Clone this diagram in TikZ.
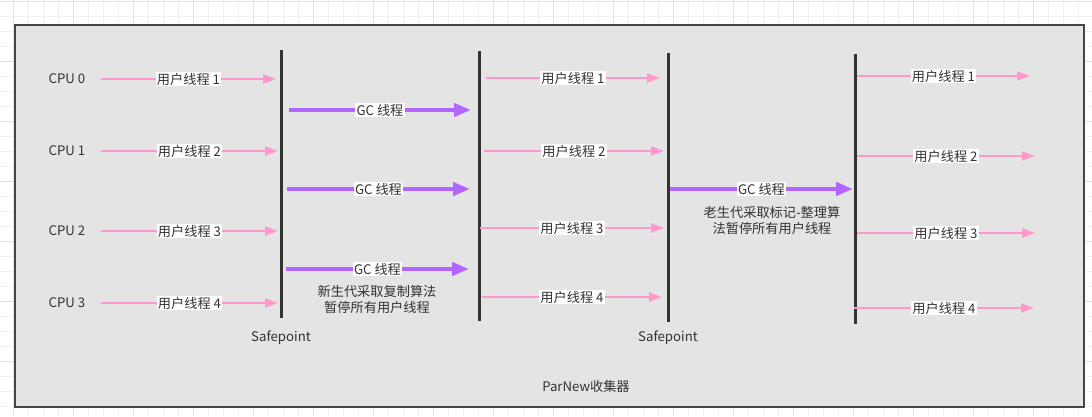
\documentclass[tikz,border=0pt]{standalone}
\usepackage{fontspec}
\setmainfont{Noto Sans CJK SC}
\usepackage{tikz}
\usetikzlibrary{arrows.meta,positioning}

\definecolor{userpink}{HTML}{FF99CC}
\definecolor{gcpurple}{HTML}{B266FF}
\definecolor{panelgray}{HTML}{E4E4E4}
\definecolor{framegray}{HTML}{454545}
\definecolor{bargray}{HTML}{333333}
\definecolor{txtgray}{HTML}{333333}
\definecolor{gridminor}{HTML}{F0F0F0}
\definecolor{gridmajor}{HTML}{E2E2E2}

\begin{document}
\begin{tikzpicture}
  [x=1pt,y=-1pt,
   every node/.style={text=txtgray,font=\fontsize{13.2}{16}\selectfont},
   lbl/.style={fill=white,inner sep=1.2pt},
   thread/.style={draw=userpink,line width=2pt,-{Triangle[length=13pt,width=9pt]}},
   gcthread/.style={draw=gcpurple,line width=4.5pt,-{Triangle[length=17pt,width=13pt]}},
   bar/.style={draw=bargray,line width=3pt}]
  \useasboundingbox (0,0) rectangle (1092,416);

  % background grid
  \foreach \gx in {13,28,...,1092} \draw[gridminor] (\gx,0) -- (\gx,416);
  \foreach \gy in {1,16,...,416} \draw[gridminor] (0,\gy) -- (1092,\gy);
  \foreach \gx in {13,73,...,1092} \draw[gridmajor] (\gx,0) -- (\gx,416);
  \foreach \gy in {1,61,...,416} \draw[gridmajor] (0,\gy) -- (1092,\gy);

  % panel
  \draw[draw=framegray,fill=panelgray,line width=2pt] (15,25) rectangle (1084,407);

  \node (cpu0) at (67,79) {CPU 0};
  \node (cpu1) at (67,151) {CPU 1};
  \node (cpu2) at (67,231) {CPU 2};
  \node (cpu3) at (67,303) {CPU 3};

  % safepoint bars
  \coordinate (b1t) at (281,50);  \coordinate (b1b) at (281,318);
  \coordinate (b2t) at (479,51);  \coordinate (b2b) at (479,321);
  \coordinate (b3t) at (668,53);  \coordinate (b3b) at (668,322);
  \coordinate (b4t) at (855,54);  \coordinate (b4b) at (855,324);
  \foreach \from/\to in {b1t/b1b, b2t/b2b, b3t/b3b, b4t/b4b}
    \draw[bar] (\from) -- (\to);

  \node (sp1) at (281,338) {Safepoint};
  \node (sp2) at (668,338) {Safepoint};

  % user threads
  \coordinate (p1s) at (101,79);   \coordinate (p1e) at (276,79);
  \coordinate (p2s) at (101,151);  \coordinate (p2e) at (278,151);
  \coordinate (p3s) at (101,231);  \coordinate (p3e) at (278,231);
  \coordinate (p4s) at (101,303);  \coordinate (p4e) at (278,303);
  \coordinate (q1s) at (486,78);   \coordinate (q1e) at (660,78);
  \coordinate (q2s) at (484,151);  \coordinate (q2e) at (664,151);
  \coordinate (q3s) at (480,228);  \coordinate (q3e) at (664,228);
  \coordinate (q4s) at (482,297);  \coordinate (q4e) at (662,297);
  \coordinate (r1s) at (857,76);   \coordinate (r1e) at (1030,76);
  \coordinate (r2s) at (857,156);  \coordinate (r2e) at (1035,156);
  \coordinate (r3s) at (857,233);  \coordinate (r3e) at (1035,233);
  \coordinate (r4s) at (854,308);  \coordinate (r4e) at (1034,308);

  \foreach \from/\to/\n in {p1s/p1e/1, p2s/p2e/2, p3s/p3e/3, p4s/p4e/4,
                            q1s/q1e/1, q2s/q2e/2, q3s/q3e/3, q4s/q4e/4,
                            r1s/r1e/1, r2s/r2e/2, r3s/r3e/3, r4s/r4e/4}
    \draw[thread] (\from) -- node[lbl] {用户线程 \n} (\to);

  % gc threads
  \coordinate (g1s) at (289,110);  \coordinate (g1e) at (471,110);
  \coordinate (g2s) at (287,189);  \coordinate (g2e) at (470,189);
  \coordinate (g3s) at (286,269);  \coordinate (g3e) at (469,269);
  \coordinate (g4s) at (670,189);  \coordinate (g4e) at (853,189);

  \foreach \from/\to in {g1s/g1e, g2s/g2e, g3s/g3e, g4s/g4e}
    \draw[gcthread] (\from) -- node[lbl] {GC 线程} (\to);

  \node[align=center] (young) at (377,299) {新生代采取复制算法\\暂停所有用户线程};
  \node[align=center] (old) at (772,220) {老生代采取标记-整理算\\法暂停所有用户线程};

  \node (title) at (586,386) {ParNew收集器};
\end{tikzpicture}
\end{document}
